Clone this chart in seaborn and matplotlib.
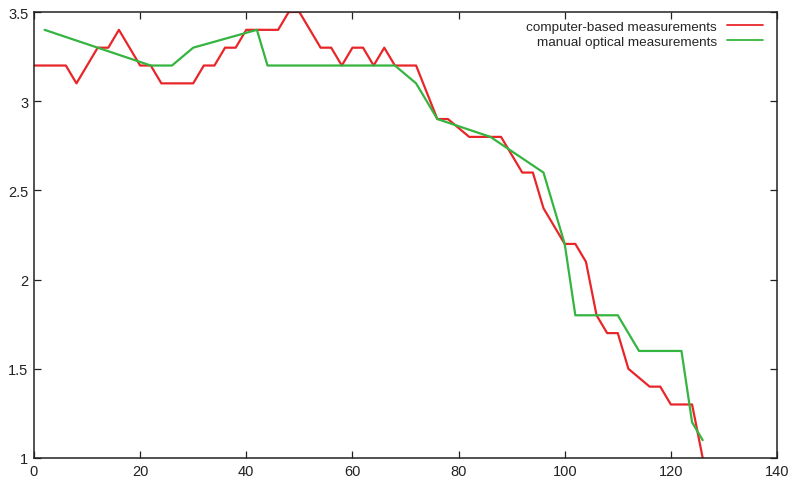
import numpy as np
import pandas as pd
import matplotlib
matplotlib.use("Agg")
import matplotlib.pyplot as plt
import seaborn as sns
from matplotlib.ticker import FormatStrFormatter

sns.set_style("ticks")
plt.rcParams["font.family"] = ["Liberation Sans", "DejaVu Sans"]

comp_x = [0, 6, 8, 12, 14, 16, 20, 22, 24, 30, 32, 34, 36, 38, 40, 46, 48, 50,
          54, 56, 58, 60, 62, 64, 66, 68, 72, 76, 78, 82, 88, 92, 94, 96, 100,
          102, 104, 106, 108, 110, 112, 116, 118, 120, 124, 126]
comp_y = [3.2, 3.2, 3.1, 3.3, 3.3, 3.4, 3.2, 3.2, 3.1, 3.1, 3.2, 3.2, 3.3, 3.3,
          3.4, 3.4, 3.5, 3.5, 3.3, 3.3, 3.2, 3.3, 3.3, 3.2, 3.3, 3.2, 3.2, 2.9,
          2.9, 2.8, 2.8, 2.6, 2.6, 2.4, 2.2, 2.2, 2.1, 1.8, 1.7, 1.7, 1.5, 1.4,
          1.4, 1.3, 1.3, 1.0]

# manual optical measurements
man_x = [2, 22, 26, 30, 42, 44, 68, 72, 76, 86, 96, 100, 102, 110, 114, 122, 124, 126]
man_y = [3.4, 3.2, 3.2, 3.3, 3.4, 3.2, 3.2, 3.1, 2.9, 2.8, 2.6, 2.2, 1.8, 1.8,
         1.6, 1.6, 1.2, 1.1]

fig = plt.figure(figsize=(7.94, 4.85), dpi=100)
ax = fig.add_axes([34 / 794, 1 - 459 / 485, (777 - 34) / 794, (459 - 13) / 485])

comp = pd.DataFrame({"x": comp_x, "y": comp_y})
man = pd.DataFrame({"x": man_x, "y": man_y})
sns.lineplot(data=comp, x="x", y="y", ax=ax, color="#e8262a", lw=1.6,
             label="computer-based measurements", sort=False)
sns.lineplot(data=man, x="x", y="y", ax=ax, color="#35b43f", lw=1.6,
             label="manual optical measurements", sort=False)

ax.set_xlim(0, 140)
ax.set_ylim(1, 3.5)
ax.set_xticks(np.arange(0, 141, 20))
ax.set_yticks([1, 1.5, 2, 2.5, 3, 3.5])
ax.yaxis.set_major_formatter(FormatStrFormatter("%g"))
ax.set_xlabel("")
ax.set_ylabel("")
ax.tick_params(direction="in", length=5, width=0.9, top=True, right=True,
               labelsize=10.5, colors="#222222", pad=4)
for s in ax.spines.values():
    s.set_linewidth(1.1)
    s.set_color("#222222")

leg = ax.legend(loc="upper right", frameon=False, markerfirst=False,
                fontsize=9.7, handlelength=2.7, handletextpad=0.7,
                labelspacing=0.2, borderaxespad=0, borderpad=0,
                bbox_to_anchor=(0.981, 0.981))
for line in leg.get_lines():
    line.set_linewidth(1.3)

plt.savefig("out.png", dpi=100)
